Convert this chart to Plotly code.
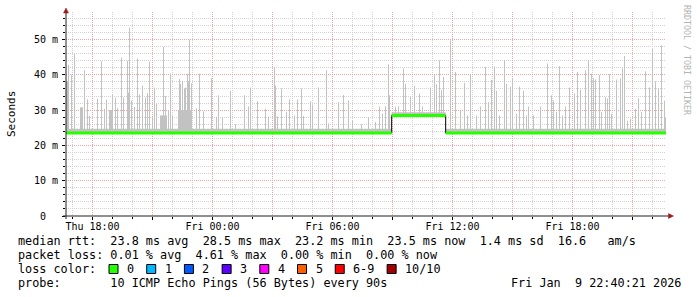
import numpy as np
import pandas as pd
import plotly.graph_objects as go

# ---------------- data ----------------
START = pd.Timestamp("2026-01-08 16:40:21")
END = pd.Timestamp("2026-01-09 22:40:21")
STEP_MIN = 3  # RRD consolidation step (minutes per sample)

# median rtt (ms) steps, minutes since START
median_min = [0, 977, 1139, 1800]
median_ms = [23.5, 28.5, 23.5, 23.5]

# broad smoke bands: start / end (minutes since START), top (ms)
band_start_min = [0, 977, 1139, 0, 42, 129, 282, 336]
band_end_min = [977, 1139, 1800, 9, 51, 138, 303, 378]
band_top_ms = [24.7, 29.4, 24.7, 38.2, 30.8, 30.0, 28.5, 30.0]

# individual smoke spikes: minutes since START, top (ms)
spike_min = [8, 15, 24, 54, 63, 69, 93, 105, 114, 120, 138, 147, 153, 165, 171,
             183, 186, 190, 195, 204, 213, 219, 230, 237, 243, 249, 258, 264, 272,
             292, 297, 306, 314, 320, 339, 342, 350, 354, 357, 363, 366, 370, 377,
             392, 400, 412, 435, 450, 457, 470, 492, 508, 535, 547, 554, 574, 597,
             607, 624, 628, 635, 647, 660, 670, 685, 695, 705, 712, 732, 740, 757,
             780, 788, 817, 832, 847, 860, 887, 907, 927, 940, 950, 957, 967, 970,
             987, 997, 1012, 1019, 1032, 1044, 1059, 1070, 1092, 1105, 1112, 1119,
             1125, 1132,
             1154, 1167, 1184, 1195, 1205, 1214, 1232, 1242, 1257, 1267, 1277, 1284,
             1292, 1300, 1314, 1320, 1332, 1340, 1350, 1360, 1372, 1380, 1387, 1402,
             1422, 1444, 1457, 1462, 1470, 1480, 1490, 1497, 1510, 1525, 1534, 1542,
             1559, 1567, 1575, 1582, 1587, 1600, 1607, 1617, 1623, 1630, 1637, 1652,
             1662, 1669, 1675, 1684, 1692, 1707, 1717, 1727, 1737, 1750, 1760, 1767,
             1777, 1785, 1794, 1797]
spike_top_ms = [42.8, 40.0, 45.8, 41.3, 33.1, 28.4, 33.2, 43.9, 30.4, 33.0, 34.4, 33.5,
                30.5, 44.9, 33.6, 44.0, 35.0, 53.4, 32.7, 30.9, 44.6, 34.4, 37.0, 33.6,
                34.8, 43.7, 27.5, 36.4, 31.8, 47.9, 34.0, 30.0, 40.4, 28.5, 38.8, 37.5,
                38.3, 36.0, 36.4, 40.2, 38.0, 50.0, 37.6, 30.5, 40.3, 29.6, 39.0, 28.1,
                34.2, 28.0, 35.4, 26.0, 34.2, 31.0, 36.4, 32.5, 30.4, 28.2, 42.2, 37.0,
                28.2, 36.1, 29.5, 33.0, 28.5, 33.0, 36.1, 28.3, 32.5, 31.4, 36.4, 41.3,
                26.2, 32.3, 34.3, 32.7, 27.0, 26.0, 28.0, 26.6, 31.0, 29.0, 31.1, 43.0,
                34.2,
                31.0, 31.1, 41.8, 37.5, 33.7, 36.8, 34.7, 31.0, 36.4, 39.9, 37.3, 44.1,
                35.8, 39.4,
                49.7, 40.8, 29.8, 37.7, 28.5, 40.2, 28.5, 31.0, 42.2, 32.3, 38.5, 42.4,
                35.5, 28.5, 44.2, 37.5, 36.6, 39.0, 29.0, 36.6, 35.5, 28.5, 31.0, 28.5,
                31.0, 43.2, 34.2, 32.7, 29.5, 42.4, 28.5, 31.0, 36.4, 34.7, 40.8, 35.8,
                41.3, 43.9, 40.3, 39.0, 38.7, 39.9, 29.5, 33.7, 33.3, 40.2, 29.0, 38.7,
                39.0, 41.8, 45.3, 27.0, 27.5, 30.4, 33.3, 29.5, 41.0, 36.4, 47.3, 38.2,
                36.1, 48.4, 32.7, 28.0]

# axis ticks
x_tick_times = ["2026-01-08 18:00", "2026-01-08 21:00", "2026-01-09 00:00",
                "2026-01-09 03:00", "2026-01-09 06:00", "2026-01-09 09:00",
                "2026-01-09 12:00", "2026-01-09 15:00", "2026-01-09 18:00",
                "2026-01-09 21:00"]
x_tick_labels = ["Thu 18:00", "", "Fri 00:00", "", "Fri 06:00", "",
                 "Fri 12:00", "", "Fri 18:00", ""]
y_tick_vals = [0, 10, 20, 30, 40, 50]
y_tick_labels = ["0  ", "10 m", "20 m", "30 m", "40 m", "50 m"]

# legend
legend_line1 = "median rtt:  23.8 ms avg  28.5 ms max  23.2 ms min  23.5 ms now  1.4 ms sd  16.6   am/s"
legend_line2 = "packet loss: 0.01 % avg  4.61 % max  0.00 % min  0.00 % now"
legend_line3 = "loss color:"
legend_line4 = "probe:       10 ICMP Echo Pings (56 Bytes) every 90s"
stamp_text = "Fri Jan  9 22:40:21 2026"
loss_labels = ["0", "1", "2", "3", "4", "5", "6-9", "10/10"]
loss_colors = ["#26ff00", "#00b8ff", "#0059ff", "#5e00ff", "#ff00ff", "#ff5e00",
               "#ff0000", "#a00000"]

# ---------------- helpers ----------------
L, T, W, H = 66, 12, 600, 204
FIG_W, FIG_H = 697, 297
MONO = "DejaVu Sans Mono"


def X(px):
    return (px - L) / W


def Y(py):
    return (T + H - py) / H


def tmin(m):
    return START + pd.Timedelta(minutes=float(m))


def snap(m):
    # centre of the RRD consolidation step that contains minute m
    return np.floor(m / STEP_MIN) * STEP_MIN + STEP_MIN / 2


def median_at(m):
    i = int(np.searchsorted(median_min, m, side="right")) - 1
    i = max(0, min(i, len(median_ms) - 1))
    return median_ms[i]


def nb(s):
    return s.replace(" ", "\u00a0")


SMOKE = "#c2c2c2"

fig = go.Figure()

# bands
bx, bw, bb, by = [], [], [], []
for s, e, top in zip(band_start_min, band_end_min, band_top_ms):
    base = median_at(s)
    bx.append(tmin((s + e) / 2))
    bw.append((e - s) * 60000)
    bb.append(base)
    by.append(top - base)
fig.add_trace(go.Bar(x=bx, y=by, base=bb, width=bw, marker_color=SMOKE,
                     marker_line_width=0, hoverinfo="skip", showlegend=False))

# spikes
sx, sb, sy = [], [], []
for m, top in zip(spike_min, spike_top_ms):
    base = median_at(m)
    sx.append(tmin(snap(m)))
    sb.append(base)
    sy.append(top - base)
fig.add_trace(go.Bar(x=sx, y=sy, base=sb, width=[STEP_MIN * 60000] * len(sx),
                     marker_color=SMOKE, marker_line_width=0,
                     hoverinfo="skip", showlegend=False))

# median: black steps, green horizontal segments
mt = [tmin(m) for m in median_min]
fig.add_trace(go.Scatter(x=mt, y=median_ms, mode="lines", line_shape="hv",
                         line=dict(color="black", width=1),
                         hoverinfo="skip", showlegend=False))
gx, gy = [], []
for i in range(len(median_min) - 1):
    gx += [mt[i], mt[i + 1], None]
    gy += [median_ms[i], median_ms[i], None]
fig.add_trace(go.Scatter(x=gx, y=gy, mode="lines",
                         line=dict(color="#26ff00", width=3),
                         hoverinfo="skip", showlegend=False))

MINOR_GRID = "#d2d2d2"
MAJOR_GRID = "#f0a4a4"
DASH = "1px,1px"

fig.update_layout(
    width=FIG_W, height=FIG_H,
    margin=dict(l=L, r=FIG_W - L - W, t=T, b=FIG_H - T - H, pad=0),
    paper_bgcolor="white", plot_bgcolor="white",
    barmode="overlay",
    showlegend=False,
    font=dict(family=MONO, size=10, color="black"),
)
fig.update_xaxes(
    type="date", range=[START, END],
    tickmode="array", tickvals=x_tick_times, ticktext=x_tick_labels,
    showgrid=True, gridcolor=MAJOR_GRID, griddash=DASH, gridwidth=1,
    ticks="outside", ticklen=3, tickcolor="black", tickwidth=1,
    tickfont=dict(family=MONO, size=10, color="black"),
    ticklabelstandoff=-2,
    minor=dict(dtick=3600000, tick0="2026-01-08 18:00", showgrid=True,
               gridcolor=MINOR_GRID, griddash=DASH, gridwidth=1,
               ticks="outside", ticklen=2, tickcolor="black"),
    showline=False, zeroline=False, fixedrange=True,
)
fig.update_yaxes(
    range=[0, 57.8],
    tickmode="array", tickvals=y_tick_vals,
    ticktext=[nb(t) for t in y_tick_labels],
    showgrid=True, gridcolor=MAJOR_GRID, griddash=DASH, gridwidth=1,
    ticks="outside", ticklen=3, tickcolor="black", tickwidth=1,
    tickfont=dict(family=MONO, size=10, color="black"),
    ticklabelstandoff=2,
    minor=dict(dtick=2, tick0=0, showgrid=True, gridcolor=MINOR_GRID,
               griddash=DASH, gridwidth=1, ticks="outside", ticklen=2,
               tickcolor="black"),
    showline=False, zeroline=False, fixedrange=True,
)

ARROW = "#9a1c1c"
AXIS = "#202020"
shapes = [
    dict(type="line", xref="paper", yref="paper", x0=X(63), x1=X(669),
         y0=Y(216), y1=Y(216), line=dict(color=AXIS, width=1)),
    dict(type="line", xref="paper", yref="paper", x0=X(66), x1=X(66),
         y0=Y(219), y1=Y(12), line=dict(color=AXIS, width=1)),
    dict(type="path", xref="paper", yref="paper",
         path=f"M {X(63.5)},{Y(13)} L {X(68.5)},{Y(13)} L {X(66)},{Y(8)} Z",
         fillcolor=ARROW, line=dict(color=ARROW, width=0.5)),
    dict(type="path", xref="paper", yref="paper",
         path=f"M {X(668.5)},{Y(213.5)} L {X(668.5)},{Y(218.5)} L {X(673.5)},{Y(216)} Z",
         fillcolor=ARROW, line=dict(color=ARROW, width=0.5)),
]

annotations = [
    dict(text="Seconds", xref="paper", yref="paper", x=X(11), y=Y(114),
         textangle=-90, showarrow=False, xanchor="center", yanchor="middle",
         font=dict(family=MONO, size=11, color="black")),
    dict(text=nb("RRDTOOL / TOBI OETIKER"), xref="paper", yref="paper",
         x=X(687), y=Y(60), textangle=90, showarrow=False,
         xanchor="center", yanchor="middle",
         font=dict(family=MONO, size=8.3, color="#b4b4b4")),
]

LEG_FS = 11.8
CW = 0.602 * LEG_FS
for text, py in [(legend_line1, 241), (legend_line2, 255),
                 (legend_line3, 269), (legend_line4, 283)]:
    annotations.append(dict(text=nb(text), xref="paper", yref="paper",
                            x=X(16), y=Y(py), showarrow=False,
                            xanchor="left", yanchor="middle",
                            font=dict(family=MONO, size=LEG_FS, color="black")))
annotations.append(dict(text=nb(stamp_text), xref="paper", yref="paper",
                        x=X(683), y=Y(283), showarrow=False,
                        xanchor="right", yanchor="middle",
                        font=dict(family=MONO, size=LEG_FS, color="black")))

pos = 109.0
for lab, col in zip(loss_labels, loss_colors):
    shapes.append(dict(type="rect", xref="paper", yref="paper",
                       x0=X(pos), x1=X(pos + 9), y0=Y(273.5), y1=Y(264.5),
                       fillcolor=col, line=dict(color="black", width=1)))
    annotations.append(dict(text=nb(lab), xref="paper", yref="paper",
                            x=X(pos + 16), y=Y(269), showarrow=False,
                            xanchor="left", yanchor="middle",
                            font=dict(family=MONO, size=LEG_FS, color="black")))
    pos += 16 + len(lab) * CW + 14.6

fig.update_layout(shapes=shapes, annotations=annotations)
fig.write_html("out.html")
